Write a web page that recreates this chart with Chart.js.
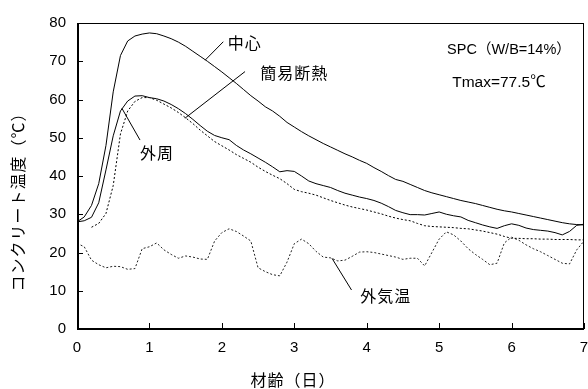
<!DOCTYPE html>
<html>
<head>
<meta charset="utf-8">
<script src="https://cdn.jsdelivr.net/npm/chart.js@4/dist/chart.umd.min.js"></script>
<style>
  html, body { margin: 0; padding: 0; background: #fff; }
</style>
</head>
<body>
<canvas id="tempChart" width="588" height="389"></canvas>
<script>
// 材齢（日）
const days = [0, 0.1, 0.2, 0.3, 0.4, 0.5, 0.6, 0.7, 0.8, 0.9,
  1, 1.1, 1.2, 1.3, 1.4, 1.5, 1.6, 1.7, 1.8, 1.9,
  2, 2.1, 2.2, 2.3, 2.4, 2.5, 2.6, 2.7, 2.8, 2.9,
  3, 3.1, 3.2, 3.3, 3.4, 3.5, 3.6, 3.7, 3.8, 3.9,
  4, 4.1, 4.2, 4.3, 4.4, 4.5, 4.6, 4.7, 4.8, 4.9,
  5, 5.1, 5.2, 5.3, 5.4, 5.5, 5.6, 5.7, 5.8, 5.9,
  6, 6.1, 6.2, 6.3, 6.4, 6.5, 6.6, 6.7, 6.8, 6.9, 7];

// 中心
const centerTemp = [28, 29.3, 32.3, 38, 48, 62, 71.5, 75.3, 76.6, 77.1,
  77.4, 77.2, 76.6, 75.9, 75, 73.9, 72.6, 71.3, 70, 68.6,
  67.2, 65.7, 64.2, 62.6, 61, 59.6, 58.1, 57, 55.6, 54,
  52.8, 51.6, 50.5, 49.5, 48.5, 47.6, 46.7, 45.8, 45, 44.1,
  43.3, 42.2, 41.2, 40.1, 39.1, 38.6, 37.8, 37, 36.2, 35.6,
  35.1, 34.6, 34.1, 33.6, 33.2, 32.8, 32.3, 31.8, 31.3, 30.9,
  30.6, 30.2, 29.8, 29.4, 29, 28.6, 28.2, 27.8, 27.5, 27.3, 27.2];

// 外周
const outerTemp = [28, 28.3, 29.2, 33, 41.6, 50.5, 57, 59.6, 60.9, 61,
  60.5, 60.2, 59.6, 58.7, 57.6, 56.3, 54.8, 53.2, 51.7, 50.6,
  50, 49.5, 48, 46.8, 45.8, 44.7, 43.6, 42.4, 41.1, 41.4,
  41.2, 40, 38.7, 38, 37.5, 37, 36.2, 35.5, 35, 34.5,
  34.1, 33.6, 32.9, 32, 31, 30.4, 29.9, 29.9, 29.8, 30.2,
  30.6, 30, 29.6, 29.3, 28.4, 27.8, 27.2, 26.7, 26.3, 27,
  27.5, 27.1, 26.4, 26, 25.8, 25.6, 25.2, 24.6, 25.5, 27.1, 27.4];

// 簡易断熱
const insulatedTemp = [null, null, 26.6, 27.6, 30.2, 37.5, 51, 57, 59.5, 60.5,
  60.5, 59.8, 58.8, 57.8, 56.6, 55.2, 53.7, 52, 50.5, 49,
  47.9, 46.8, 45.6, 44.6, 43.6, 42.3, 41.2, 40.2, 39.3, 38,
  36.5, 35.9, 35.5, 35, 34.3, 33.6, 33, 32.4, 31.9, 31.5,
  31.1, 30.6, 30.1, 29.5, 29, 28.6, 28.3, 27.6, 27, 26.8,
  26.7, 26.6, 26.5, 26.3, 26.2, 25.9, 25.6, 25.2, 24.8, 24.2,
  23.7, 23.7, 23.6, 23.6, 23.5, 23.5, 23.4, 23.4, 23.4, 23.3, 23.3];

// 外気温
const airTemp = [22.4, 21.5, 18, 16.8, 16, 16.4, 16.3, 15.6, 15.8, 21,
  21.5, 22.5, 20.7, 19.5, 18.5, 19.1, 18.8, 18.3, 18.2, 23,
  25.2, 26.2, 25.5, 24.3, 23, 16, 15, 14.2, 13.9, 17.5,
  22.3, 23.5, 22.3, 20.3, 18.8, 18.6, 17.8, 18, 19, 20.1,
  20.2, 20, 19.6, 19.2, 18.8, 18.2, 18.5, 18.5, 16.5, 20,
  23.5, 25.4, 24.6, 23, 21, 19.5, 18.2, 16.8, 17.2, 22.5,
  24, 23.2, 22, 21, 20.2, 19.2, 18.2, 17.2, 17, 20.7, 23];

const xTicks = [0, 1, 2, 3, 4, 5, 6, 7];
const yTicks = [0, 10, 20, 30, 40, 50, 60, 70, 80];

const toPoints = (vals) => days.map((d, i) => ({ x: d, y: vals[i] }));

// 注記（データ座標）
const notes = [
  { text: "中心", at: [2.08, 74.8], line: [[1.77, 70.3], [2.02, 75.1]] },
  { text: "簡易断熱", at: [2.53, 66.9], line: [[2.32, 67.3], [1.49, 55.1]] },
  { text: "外周", at: [0.87, 46.0], line: [[0.87, 49.4], [0.62, 57.7]] },
  { text: "外気温", at: [3.91, 8.6], line: [[3.79, 10.2], [3.52, 18.5]] },
];

const jpFont = '"Noto Sans CJK JP", "Noto Sans", sans-serif';
const numFont = '"Liberation Sans Narrow", "Liberation Sans", Arial, sans-serif';

const framePlugin = {
  id: "frame",
  afterDraw(chart) {
    const { ctx, chartArea: a, scales: { x, y } } = chart;
    ctx.save();
    ctx.strokeStyle = "#000";
    // 枠
    ctx.lineWidth = 1;
    ctx.strokeRect(a.left + 0.5, a.top + 0.5, a.right - a.left - 1, a.bottom - a.top);
    ctx.lineWidth = 2;
    ctx.beginPath();
    ctx.moveTo(a.left + 1, a.top);
    ctx.lineTo(a.left + 1, a.bottom);
    ctx.lineTo(a.right, a.bottom);
    ctx.stroke();
    // 内向き目盛
    ctx.lineWidth = 1;
    ctx.beginPath();
    yTicks.forEach((v) => {
      const py = Math.round(y.getPixelForValue(v)) + 0.5;
      ctx.moveTo(a.left, py);
      ctx.lineTo(a.left + 6, py);
    });
    xTicks.forEach((v) => {
      const px = Math.round(x.getPixelForValue(v)) + 0.5;
      ctx.moveTo(px, a.bottom);
      ctx.lineTo(px, a.bottom - 6);
    });
    ctx.stroke();

    // 引出線と系列名
    ctx.fillStyle = "#000";
    ctx.font = "16px " + jpFont;
    ctx.letterSpacing = "1px";
    ctx.textBaseline = "middle";
    ctx.textAlign = "left";
    notes.forEach((n) => {
      ctx.beginPath();
      ctx.moveTo(x.getPixelForValue(n.line[0][0]), y.getPixelForValue(n.line[0][1]));
      ctx.lineTo(x.getPixelForValue(n.line[1][0]), y.getPixelForValue(n.line[1][1]));
      ctx.stroke();
      ctx.fillText(n.text, x.getPixelForValue(n.at[0]), y.getPixelForValue(n.at[1]));
    });

    ctx.letterSpacing = "0px";
    ctx.font = '14.5px "Liberation Sans", Arial, ' + jpFont;
    ctx.fillText("SPC（W/B=14%）", x.getPixelForValue(5.11), y.getPixelForValue(72.9));
    ctx.font = '15.5px "Liberation Sans", Arial, ' + jpFont;
    ctx.fillText("Tmax=77.5℃", x.getPixelForValue(5.18), y.getPixelForValue(64.3));

    // 軸タイトル
    ctx.font = "16px " + jpFont;
    ctx.letterSpacing = "1px";
    ctx.textAlign = "center";
    ctx.fillText("材齢（日）", 293, 380);
    ctx.translate(18, 198);
    ctx.rotate(-Math.PI / 2);
    ctx.fillText("コンクリート温度（℃）", 0, 0);
    ctx.restore();
  },
};

const solid = { borderColor: "#000", borderWidth: 1, pointRadius: 0, tension: 0, fill: false };

new Chart(document.getElementById("tempChart"), {
  type: "line",
  data: {
    datasets: [
      { label: "中心", data: toPoints(centerTemp), ...solid },
      { label: "外周", data: toPoints(outerTemp), ...solid },
      { label: "簡易断熱", data: toPoints(insulatedTemp), ...solid, borderDash: [2, 2] },
      { label: "外気温", data: toPoints(airTemp), ...solid, borderColor: "#222", borderDash: [2, 2] },
    ],
  },
  options: {
    responsive: false,
    animation: false,
    layout: { padding: { left: 0, right: 4, top: 23, bottom: 0 } },
    scales: {
      x: {
        type: "linear",
        min: 0,
        max: 7,
        grid: { display: false, drawTicks: false },
        border: { display: false },
        afterFit: (s) => { s.height = 60; s.paddingLeft = 0; s.paddingRight = 0; },
        afterBuildTicks: (s) => { s.ticks = xTicks.map((v) => ({ value: v })); },
        ticks: { color: "#000", font: { family: numFont, size: 15 }, padding: 10, maxRotation: 0 },
      },
      y: {
        min: 0,
        max: 80,
        grid: { display: false, drawTicks: false },
        border: { display: false },
        afterFit: (s) => { s.width = 77; s.paddingTop = 0; s.paddingBottom = 0; },
        afterBuildTicks: (s) => { s.ticks = yTicks.map((v) => ({ value: v })); },
        ticks: { color: "#000", font: { family: numFont, size: 15 }, padding: 11 },
      },
    },
    plugins: {
      legend: { display: false },
      tooltip: { enabled: false },
    },
  },
  plugins: [framePlugin],
});
</script>
</body>
</html>
